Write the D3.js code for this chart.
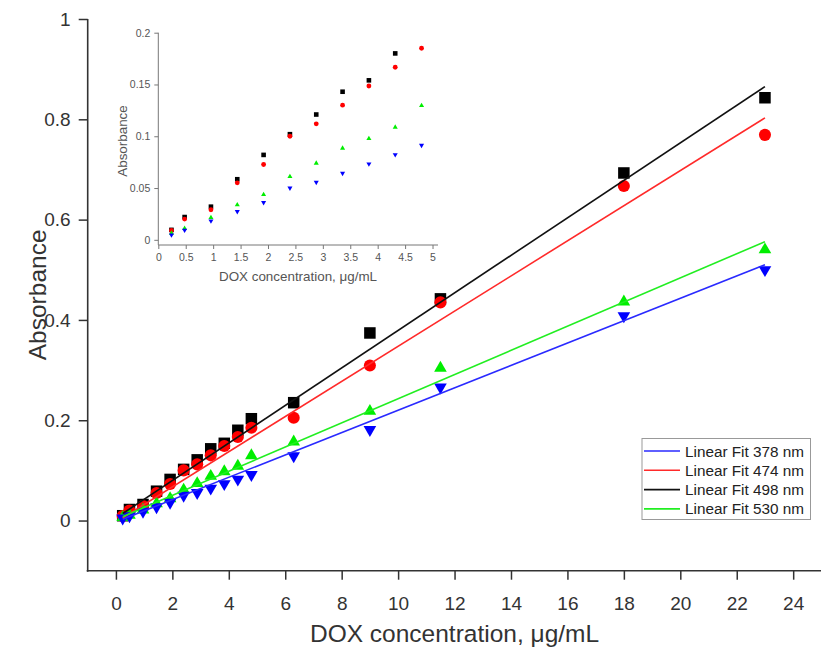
<!DOCTYPE html>
<html><head><meta charset="utf-8">
<script src="https://cdn.jsdelivr.net/npm/d3@7"></script>
<style>body{margin:0;background:#fff}svg{display:block;font-family:"Liberation Sans",Arial,sans-serif}</style>
</head><body><svg id="c" width="821" height="648"></svg>
<script>
// ---- data ----
const conc = [0.24,0.48,0.96,1.44,1.92,2.4,2.88,3.36,3.84,4.32,4.8,6.3,9,11.5,18,23];
const abs498 = [0.0096,0.022,0.032,0.0585,0.082,0.102,0.121,0.143,0.154,0.180,0.203,0.235,0.374,0.442,0.693,0.843];
const abs474 = [0.009,0.020,0.029,0.055,0.0727,0.100,0.112,0.130,0.1485,0.1666,0.185,0.205,0.309,0.435,0.667,0.769];
const abs530 = [0.0064,0.011,0.0215,0.0338,0.0437,0.061,0.074,0.0884,0.0977,0.1087,0.1296,0.157,0.218,0.304,0.436,0.540];
const abs378 = [0.0048,0.0093,0.0183,0.0273,0.036,0.050,0.0556,0.0643,0.0733,0.0823,0.0913,0.129,0.181,0.266,0.408,0.500];
const seriesNames = ["Linear Fit 378 nm","Linear Fit 474 nm","Linear Fit 498 nm","Linear Fit 530 nm"];
// fit parameters: [slope, intercept]
const fit378 = [0.02231,-0.003];
const fit474 = [0.03504,-0.003];
const fit498 = [0.0374,0.005];
const fit530 = [0.02409,0.002];
const xTicks = [0,2,4,6,8,10,12,14,16,18,20,22,24];
const yTicks = [0,0.2,0.4,0.6,0.8,1];
const insetXTicks = [0,0.5,1,1.5,2,2.5,3,3.5,4,4.5,5];
const insetYTicks = [0,0.05,0.1,0.15,0.2];

const series = [
  {name:seriesNames[0], vals:abs378, fit:fit378, color:"#0000ff", sym:"down"},
  {name:seriesNames[1], vals:abs474, fit:fit474, color:"#ff0000", sym:"circle"},
  {name:seriesNames[2], vals:abs498, fit:fit498, color:"#000000", sym:"square"},
  {name:seriesNames[3], vals:abs530, fit:fit530, color:"#00ee00", sym:"up"}
];
const lineColors = {"#0000ff":"#2a2aff","#ff0000":"#ff2a2a","#000000":"#111","#00ee00":"#22ee22"};

const svg = d3.select("#c");
const axisCol = "#333";
const FF = "Liberation Sans, Arial, sans-serif";

// ---- main chart ----
const x = d3.scaleLinear().domain([-1,25]).range([87.7,821.4]);
const y = d3.scaleLinear().domain([-0.1,1]).range([570.7,19]);

function marker(g, sym, cx, cy, s, color){
  if(sym==="square"){
    g.append("rect").attr("x",cx-s/2).attr("y",cy-s/2).attr("width",s).attr("height",s).attr("fill",color);
  } else if(sym==="circle"){
    g.append("circle").attr("cx",cx).attr("cy",cy).attr("r",s/2*1.05).attr("fill",color);
  } else {
    const h = s*0.95, w = s*1.1;
    const dir = sym==="up" ? 1 : -1;
    const pts = [[cx-w/2, cy+dir*h/3],[cx+w/2, cy+dir*h/3],[cx, cy-dir*2*h/3]];
    g.append("polygon").attr("points",pts.map(p=>p.join(",")).join(" ")).attr("fill",color);
  }
}

const gm = svg.append("g");
const drawOrder = [2,1,3,0];
drawOrder.forEach(i=>{
  const s = series[i];
  conc.forEach((c,j)=> marker(gm, s.sym, x(c), y(s.vals[j]), 11.5, s.color));
});
series.forEach(s=>{
  const x0 = d3.min(conc), x1 = d3.max(conc);
  gm.append("line").attr("x1",x(x0)).attr("y1",y(s.fit[0]*x0+s.fit[1]))
    .attr("x2",x(x1)).attr("y2",y(s.fit[0]*x1+s.fit[1]))
    .attr("stroke",lineColors[s.color]).attr("stroke-width",1.6);
});

// axes
const xMinor = d3.range(-1, 25.01, 2/3).filter(v=>v>=-1 && v<=25);
const gx = svg.append("g").attr("transform",`translate(0,${y(-0.1)})`);
gx.call(d3.axisBottom(x).tickValues(xMinor).tickSize(5).tickFormat("")).call(g=>{g.select(".domain").remove();g.selectAll("line").attr("stroke",axisCol).attr("stroke-width",1.5);});
gx.call(d3.axisBottom(x).tickValues(xTicks).tickSize(9).tickPadding(17).tickFormat(d3.format("d")))
  .call(g=>{g.select(".domain").remove();g.selectAll("line").attr("stroke",axisCol).attr("stroke-width",1.5);
    g.selectAll("text").attr("fill",axisCol).attr("font-size",19).attr("font-family",FF);});
gx.append("line").attr("x1",x(-1)-1).attr("x2",x(25)).attr("stroke",axisCol).attr("stroke-width",1.6);

const yMinor = d3.range(-0.1,1.001,0.1);
const gy = svg.append("g").attr("transform",`translate(${x(-1)},0)`);
gy.call(d3.axisLeft(y).tickValues(yMinor).tickSize(5).tickFormat("")).call(g=>{g.select(".domain").remove();g.selectAll("line").attr("stroke",axisCol).attr("stroke-width",1.5);});
gy.call(d3.axisLeft(y).tickValues(yTicks).tickSize(9).tickPadding(8).tickFormat(d=>d===0||d===1?d3.format("d")(d):d3.format(".1f")(d)))
  .call(g=>{g.select(".domain").remove();g.selectAll("line").attr("stroke",axisCol).attr("stroke-width",1.5);
    g.selectAll("text").attr("fill",axisCol).attr("font-size",19).attr("font-family",FF);});
gy.append("line").attr("y1",y(1)).attr("y2",y(-0.1)+1).attr("stroke",axisCol).attr("stroke-width",1.6);

svg.append("text").attr("x",(x(-1)+x(25))/2).attr("y",642).attr("text-anchor","middle").attr("font-size",24.5).attr("fill",axisCol)
  .text("DOX concentration, μg/mL");
svg.append("text").attr("transform",`translate(46,${(y(-0.1)+y(1))/2}) rotate(-90)`).attr("text-anchor","middle").attr("font-size",24.5).attr("fill",axisCol)
  .text("Absorbance");

// legend
const lg = svg.append("g");
lg.append("rect").attr("x",642).attr("y",438.5).attr("width",168.5).attr("height",81).attr("fill","#fff").attr("stroke","#999").attr("stroke-width",1);
series.forEach((s,i)=>{
  const ly = 451 + i*19.3;
  lg.append("line").attr("x1",644).attr("x2",680).attr("y1",ly).attr("y2",ly).attr("stroke",lineColors[s.color]).attr("stroke-width",1.6);
  lg.append("text").attr("x",685).attr("y",ly+5.5).attr("font-size",15.3).attr("fill","#222").text(s.name);
});

// ---- inset ----
const ix = d3.scaleLinear().domain([0,5.1]).range([158.3,438]);
const iy = d3.scaleLinear().domain([-0.005,0.2]).range([245,32.7]);
const gi = svg.append("g");
const insetCol = "#777";
const clipId = "ic";
svg.append("defs").append("clipPath").attr("id",clipId).append("rect").attr("x",150).attr("y",28).attr("width",300).attr("height",220);
const gim = gi.append("g").attr("clip-path",`url(#${clipId})`);
drawOrder.forEach(i=>{
  const s = series[i];
  conc.forEach((c,j)=>{ if(c<=5.1 && s.vals[j]<=0.2) marker(gim, s.sym, ix(c), iy(s.vals[j]), 4.6, s.color); });
});
const ixMinor = d3.range(0,5.01,0.25);
const gix = gi.append("g").attr("transform",`translate(0,${iy(-0.005)})`);
gix.call(d3.axisBottom(ix).tickValues(ixMinor).tickSize(2).tickFormat("")).call(g=>{g.select(".domain").remove();g.selectAll("line").attr("stroke",insetCol);});
gix.call(d3.axisBottom(ix).tickValues(insetXTicks).tickSize(4).tickPadding(5).tickFormat(d=>String(d)))
  .call(g=>{g.select(".domain").remove();g.selectAll("line").attr("stroke",insetCol);
    g.selectAll("text").attr("fill","#555").attr("font-size",10.5).attr("font-family",FF);});
gix.append("line").attr("x1",ix(0)).attr("x2",ix(5.1)).attr("stroke",insetCol).attr("stroke-width",1);
const iyMinor = d3.range(0,0.2001,0.025);
const giy = gi.append("g").attr("transform",`translate(${ix(0)},0)`);
giy.call(d3.axisLeft(iy).tickValues(iyMinor).tickSize(2).tickFormat("")).call(g=>{g.select(".domain").remove();g.selectAll("line").attr("stroke",insetCol);});
giy.call(d3.axisLeft(iy).tickValues(insetYTicks).tickSize(4).tickPadding(4).tickFormat(d=>d===0?"0":String(d)))
  .call(g=>{g.select(".domain").remove();g.selectAll("line").attr("stroke",insetCol);
    g.selectAll("text").attr("fill","#555").attr("font-size",10.5).attr("font-family",FF);});
giy.append("line").attr("y1",iy(0.2)).attr("y2",iy(-0.005)).attr("stroke",insetCol).attr("stroke-width",1);
gi.append("text").attr("x",298).attr("y",281).attr("text-anchor","middle").attr("font-size",13.4).attr("fill","#555").text("DOX concentration, μg/mL");
gi.append("text").attr("transform","translate(127,141) rotate(-90)").attr("text-anchor","middle").attr("font-size",13.4).attr("fill","#555").text("Absorbance");
</script></body></html>
